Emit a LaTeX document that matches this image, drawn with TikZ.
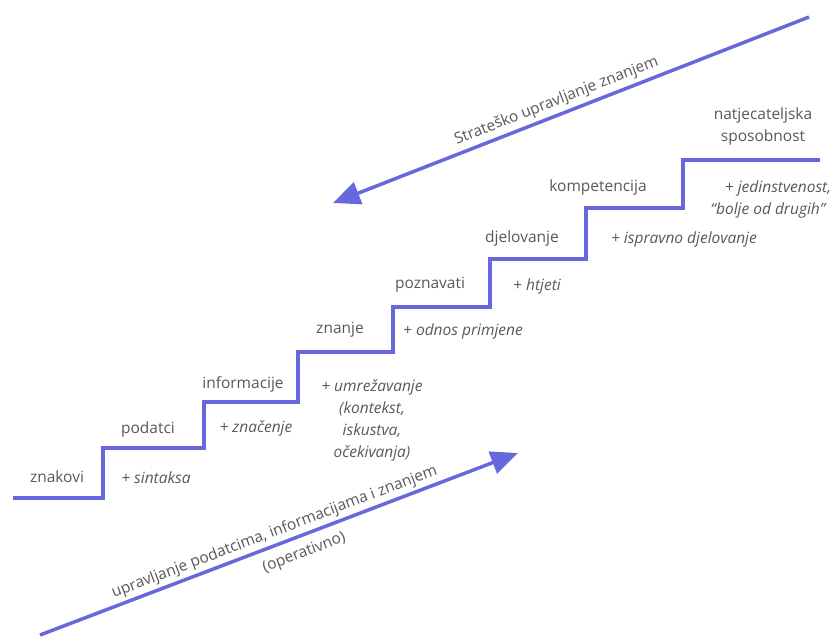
\documentclass[tikz,border=0pt]{standalone}
\usepackage{fontspec}
\setmainfont{Open Sans}
\usetikzlibrary{arrows.meta,positioning,calc}
\definecolor{stairblue}{RGB}{104,104,222}
\definecolor{labelgray}{RGB}{88,88,88}
\begin{document}
\begin{tikzpicture}[x=1pt,y=1pt]
  \tikzstyle{stair}=[line width=4pt, stairblue, line join=miter]
  \tikzstyle{level}=[font=\fontsize{15.5}{22}\selectfont, text=labelgray, align=center, inner sep=1pt]
  \tikzstyle{gain}=[level, font=\fontsize{15.5}{22}\selectfont\itshape]
  \tikzstyle{flow}=[line width=3.5pt, stairblue, -{Triangle[length=27pt,width=23pt]}]

  \useasboundingbox (0,0) rectangle (834,-643);

  % stepenice
  \draw[stair] (13,-498) -- (103,-498) -- (103,-448) -- (204,-448) -- (204,-402)
    -- (298,-402) -- (298,-352) -- (393,-352) -- (393,-307) -- (490,-307)
    -- (490,-259) -- (586,-259) -- (586,-208) -- (683,-208) -- (683,-160) -- (820,-160);

  % razine
  \node[level] (znakovi) at (57,-477) {znakovi};
  \node[level] (podatci) at (148,-429) {podatci};
  \node[level] (informacije) at (243,-384) {informacije};
  \node[level] (znanje) at (340,-330) {znanje};
  \node[level] (poznavati) at (430,-285) {poznavati};
  \node[level] (djelovanje) at (522,-238) {djelovanje};
  \node[level] (kompetencija) at (598,-187) {kompetencija};
  \node[level] (natjecanje) at (763,-126) {natjecateljska\\sposobnost};

  % dodaci
  \node[gain] (sintaksa) at (156,-478) {+ sintaksa};
  \node[gain] (znacenje) at (256,-428) {+ značenje};
  \node[gain] (umrezavanje) at (372,-420) {+ umrežavanje\\(kontekst,\\iskustva,\\očekivanja)};
  \node[gain] (odnos) at (463,-331) {+ odnos primjene};
  \node[gain] (htjeti) at (537,-286) {+ htjeti};
  \node[gain] (ispravno) at (684,-239) {+ ispravno djelovanje};
  \node[gain] (jedinstvenost) at (768,-199) {\hspace{1.3em}+ jedinstvenost,\\``bolje od drugih''};

  % strelice
  \coordinate (strat-start) at (809,-17);
  \coordinate (strat-end) at (333,-203);
  \coordinate (oper-start) at (40,-635);
  \coordinate (oper-end) at (518,-453);
  \draw[flow] (strat-start) -- node[level, sloped, above=3pt, pos=0.52] {Strateško upravljanje znanjem} (strat-end);
  \draw[flow] (oper-start) -- node[level, sloped, above=2pt, pos=0.5] {upravljanje podatcima, informacijama i znanjem}
    node[level, sloped, below=7pt, pos=0.54] {(operativno)} (oper-end);
\end{tikzpicture}
\end{document}
